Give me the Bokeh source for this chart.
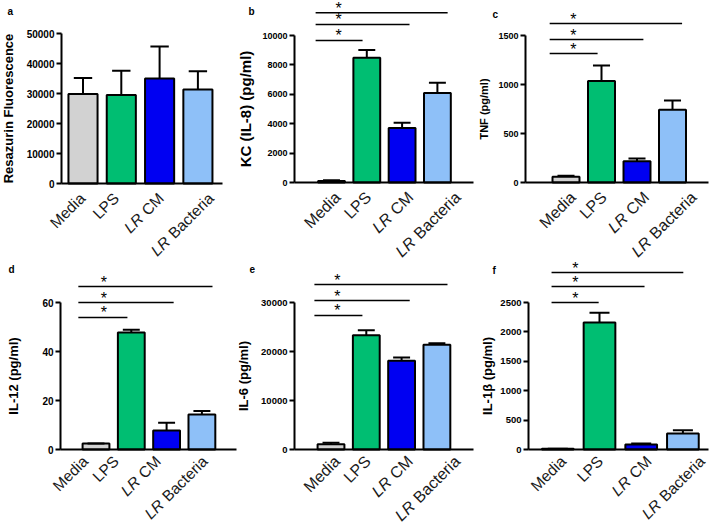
import numpy as np
from bokeh.plotting import figure
from bokeh.layouts import column, row
from bokeh.models import Range1d, FixedTicker, Label, BasicTickFormatter
from bokeh.core.properties import value
from bokeh.embed import file_html
from bokeh.resources import INLINE

# ---------------- data ----------------
categories = ["Media", "LPS", "LR CM", "LR Bacteria"]
bar_colors = ["#d2d2d2", "#00be72", "#0000f2", "#8ec0f8"]

resazurin_mean = [29800, 29500, 35000, 31300]
resazurin_err = [5400, 8100, 10700, 6100]
kc_mean = [110, 8480, 3710, 6090]
kc_err = [50, 540, 360, 700]
tnf_mean = [58, 1035, 217, 743]
tnf_err = [10, 160, 27, 95]
il12_mean = [2.4, 47.8, 7.8, 14.3]
il12_err = [0.0, 1.1, 3.1, 1.4]
il6_mean = [1090, 23330, 18100, 21360]
il6_err = [270, 1020, 680, 340]
il1b_mean = [11, 2160, 85, 272]
il1b_err = [0.0, 164, 17, 57]

ticks_a = [0, 10000, 20000, 30000, 40000, 50000]
ticks_b = [0, 2000, 4000, 6000, 8000, 10000]
ticks_c = [0, 500, 1000, 1500]
ticks_d = [0, 20, 40, 60]
ticks_e = [0, 10000, 20000, 30000]
ticks_f = [0, 500, 1000, 1500, 2000, 2500]

# significance brackets (Media vs LPS, LR CM, LR Bacteria)
sig_b = [9660, 10750, 11550]
sig_c = [1316, 1459, 1622]
sig_d = [53.9, 60.0, 66.5]
sig_e = [27350, 30400, 33670]
sig_f = [2500, 2772, 3010]

FONT = "Liberation Sans"
# Arial-metric advance widths (per em) used to lay out the split labels
ADV = {" ": .278, "C": .722, "M": .833, "B": .667, "a": .556, "c": .5,
       "t": .278, "e": .556, "r": .333, "i": .222, "d": .556, "L": .556,
       "P": .667, "S": .667, "R": .722}


def text_w(s, fs):
    return sum(ADV.get(ch, .556) for ch in s) * fs


def panel(letter, means, errs, ylabel, yticks, geom, fonts, lab, letter_xy,
          sig=None, sig_x=None, ang_deg=45.0):
    # geom: figure size and pixel layout inside the figure
    W, H, ax_px, c0_px, sp_px, xend_px, zero_px, top_px = geom
    label_fs, tick_fs, cat_fs, label_standoff = fonts
    kx, dy0 = lab
    u = yticks[-1] / (zero_px - top_px)          # data units per pixel (y)
    xs = lambda px: (px - c0_px) / sp_px         # pixel -> data (x)

    p = figure(width=W, height=H, output_backend="svg", toolbar_location=None,
               x_range=Range1d(xs(0), xs(W)),
               y_range=Range1d(-(H - zero_px) * u, zero_px * u),
               min_border_left=0, min_border_right=0, min_border_top=0,
               min_border_bottom=0)
    p.outline_line_color = None
    p.grid.visible = False

    x = np.arange(len(categories))
    m = np.array(means, dtype=float)
    e = np.array(errs, dtype=float)
    p.vbar(x=x, top=m, bottom=0, width=0.76, fill_color=bar_colors,
           line_color="black", line_width=2)
    p.segment(x0=x, y0=m, x1=x, y1=m + e, line_color="black", line_width=2)
    p.segment(x0=x - 0.24, y0=m + e, x1=x + 0.24, y1=m + e,
              line_color="black", line_width=2)

    # y axis
    ya = p.yaxis[0]
    ya.fixed_location = xs(ax_px)
    ya.ticker = FixedTicker(ticks=yticks)
    ya.bounds = (0, yticks[-1])
    ya.formatter = BasicTickFormatter(use_scientific=False)
    ya.axis_label = ylabel
    ya.axis_label_text_font = FONT
    ya.axis_label_text_font_style = "bold"
    ya.axis_label_text_font_size = f"{label_fs}px"
    ya.axis_label_text_color = "black"
    ya.axis_label_standoff = label_standoff
    ya.major_label_text_font = FONT
    ya.major_label_text_font_style = "bold"
    ya.major_label_text_font_size = f"{tick_fs}px"
    ya.major_label_text_color = "black"
    ya.major_label_standoff = 2
    ya.major_tick_in = 0
    ya.major_tick_out = 5
    ya.major_tick_line_width = 2
    ya.minor_tick_line_color = None
    ya.axis_line_width = 2

    # x axis at y = 0
    xa = p.xaxis[0]
    xa.fixed_location = 0
    xa.bounds = (xs(ax_px), xs(xend_px))
    xa.ticker = FixedTicker(ticks=[])
    xa.major_label_text_font_size = "0px"
    xa.major_tick_line_color = None
    xa.minor_tick_line_color = None
    xa.axis_line_width = 2

    # rotated category labels, "LR" in italics
    th = np.radians(ang_deg)
    cth, sth = np.cos(th), np.sin(th)
    ybase = (H - zero_px) - dy0               # screen y from canvas bottom
    common = dict(x_units="data", y_units="screen", angle=th,
                  text_align="right", text_baseline="middle", text_font=FONT,
                  text_font_size=f"{cat_fs}px", text_color="#1a1a1a")
    for i, cat in enumerate(categories):
        dx = kx + 2 + 0.354 * text_w(cat, cat_fs)
        if cat.startswith("LR "):
            rest = cat[3:]
            sh = text_w(rest, cat_fs) + 1.15 * text_w(" ", cat_fs)
            p.add_layout(Label(x=i, y=ybase, x_offset=dx, text=rest, **common))
            p.add_layout(Label(x=i, y=ybase - sh * sth, x_offset=dx - sh * cth,
                               text="LR", text_font_style="italic", **common))
        else:
            p.add_layout(Label(x=i, y=ybase, x_offset=dx, text=cat, **common))

    # significance lines + stars
    if sig is not None:
        x0, ends, sx = sig_x
        p.segment(x0=[x0] * 3, x1=ends, y0=sig, y1=sig, line_color="black",
                  line_width=1.5)
        p.text(x=[sx] * 3, y=sig, text=["*"] * 3, text_font=value(FONT),
               text_font_size="16px", text_align="center",
               text_baseline="alphabetic", y_offset=-4.5, text_color="black")

    # panel letter (frame == canvas)
    lx, ly = letter_xy
    p.add_layout(Label(x=lx, y=H - ly, x_units="screen", y_units="screen",
                       text=letter, text_font=FONT, text_font_style="bold",
                       text_font_size="10px", text_align="left",
                       text_baseline="top", text_color="black"))
    return p


#                W    H   axis  c0    sp    xend zero top
geom_a = (238, 260, 61, 82.5, 38.3, 222, 183, 33)
geom_b = (240, 260, 56, 93.0, 35.3, 235, 182, 35)
geom_c = (231, 260, 47, 87.5, 35.5, 230, 182, 35)
geom_d = (238, 269, 60, 95.5, 35.3, 236, 189, 42)
geom_e = (240, 269, 56, 92.5, 35.3, 235, 189, 42)
geom_f = (231, 269, 50, 79.3, 41.7, 230, 189, 42)

pa = panel("a", resazurin_mean, resazurin_err, "Resazurin Fluorescence", ticks_a,
           geom_a, (13, 10, 15.5, 8), (-17.6, 12), (7, 5))
pb = panel("b", kc_mean, kc_err, "KC (IL-8) (pg/ml)", ticks_b,
           geom_b, (15, 9, 16, 5), (-11.2, 12), (10, 5),
           sig=sig_b, sig_x=(-0.45, [0.88, 2.21, 3.29], 0.2))
pc = panel("c", tnf_mean, tnf_err, "TNF (pg/ml)", ticks_c,
           geom_c, (11, 9, 16, 5), (-10.4, 12), (14, 8),
           sig=sig_c, sig_x=(-0.46, [0.89, 2.18, 3.27], 0.21))
pd_ = panel("d", il12_mean, il12_err, "IL-12 (pg/ml)", ticks_d,
            geom_d, (13, 10, 15.5, 18), (-27.8, 9), (8, 3),
            sig=sig_d, sig_x=(-0.5, [0.89, 2.2, 3.3], 0.22))
pe = panel("e", il6_mean, il6_err, "IL-6 (pg/ml)", ticks_e,
           geom_e, (13, 9.5, 16, 7), (-11.2, 9), (11, 4),
           sig=sig_e, sig_x=(-0.47, [0.89, 2.23, 3.3], 0.18))
pf = panel("f", il1b_mean, il1b_err, "IL-1β (pg/ml)", ticks_f,
           geom_f, (13, 9.5, 15.5, 2), (-11.6, 9), (14, 4),
           sig=sig_f, sig_x=(-0.15, [0.98, 2.08, 3.01], 0.42))

layout = column(row(pa, pb, pc), row(pd_, pe, pf))

open("out.html", "w").write(file_html(layout, INLINE))
